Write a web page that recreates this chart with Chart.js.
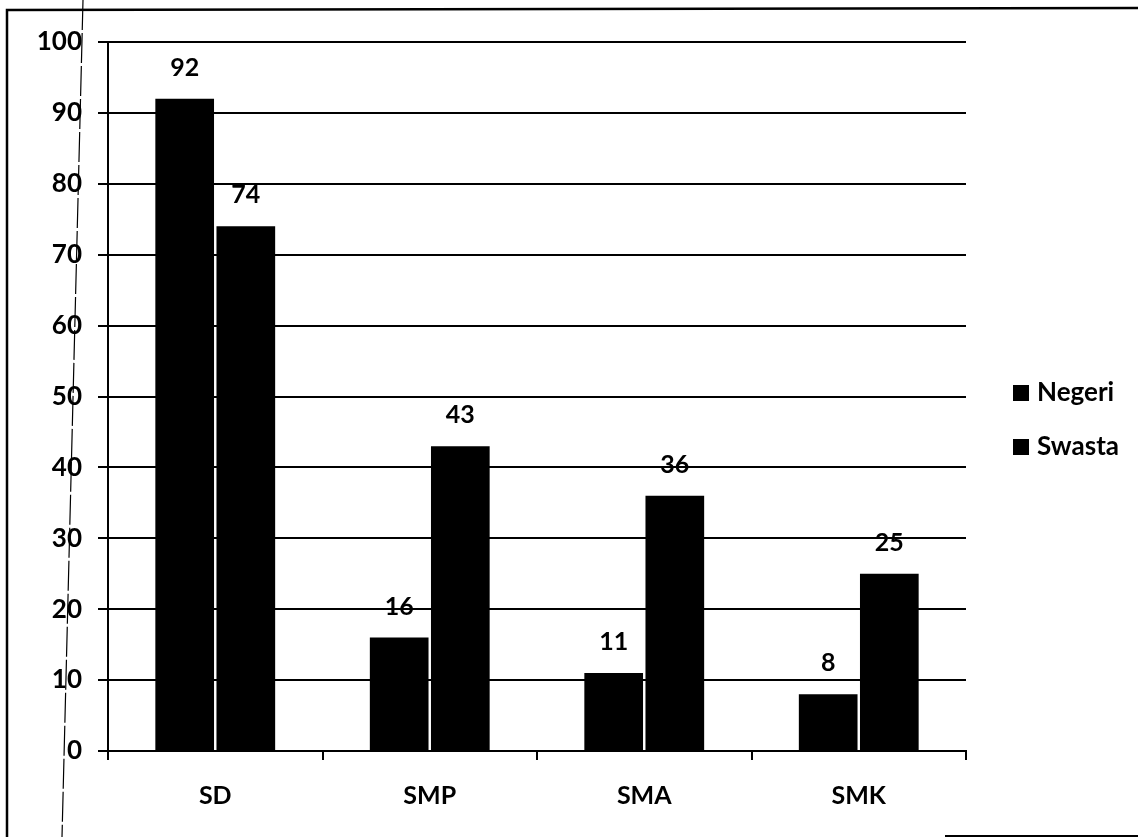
<!DOCTYPE html>
<html>
<head>
<meta charset="utf-8">
<script src="https://cdn.jsdelivr.net/npm/chart.js@4.4.1/dist/chart.umd.min.js"></script>
<style>
  html, body { margin: 0; padding: 0; background: #ffffff; }
  canvas { display: block; }
</style>
</head>
<body>
<canvas id="c" width="1138" height="837"></canvas>
<script>
const categories = ["SD", "SMP", "SMA", "SMK"];
const seriesNames = ["Negeri", "Swasta"];
const negeri = [92, 16, 11, 8];
const swasta = [74, 43, 36, 25];
const yTicks = [0, 10, 20, 30, 40, 50, 60, 70, 80, 90, 100];

const FONT = "Lato, 'DejaVu Sans', sans-serif";

const labelPlugin = {
  id: 'barLabels',
  afterDatasetsDraw(chart) {
    const ctx = chart.ctx;
    ctx.save();
    ctx.fillStyle = '#000';
    ctx.font = 'bold 25px ' + FONT;
    ctx.textAlign = 'center';
    ctx.textBaseline = 'middle';
    chart.data.datasets.forEach((ds, i) => {
      const meta = chart.getDatasetMeta(i);
      meta.data.forEach((el, j) => {
        ctx.fillText(String(ds.data[j]), el.x, el.y - 31);
      });
    });
    ctx.restore();
  }
};

const legendPlugin = {
  id: 'customLegend',
  afterDraw(chart) {
    const ctx = chart.ctx;
    ctx.save();
    ctx.font = 'bold 26px ' + FONT;
    ctx.textAlign = 'left';
    ctx.textBaseline = 'middle';
    const ys = [393, 447];
    chart.data.datasets.forEach((ds, i) => {
      ctx.fillStyle = ds.backgroundColor;
      ctx.fillRect(1013, ys[i] - 8, 16, 16);
      ctx.fillStyle = '#000';
      ctx.fillText(ds.label, 1037, ys[i]);
    });
    ctx.restore();
  }
};

const framePlugin = {
  id: 'frame',
  beforeDraw(chart) {
    const ctx = chart.ctx;
    ctx.save();
    ctx.fillStyle = '#fff';
    ctx.fillRect(0, 0, chart.width, chart.height);
    ctx.strokeStyle = '#000';
    ctx.lineWidth = 2.5;
    ctx.beginPath();
    ctx.moveTo(7, 837);
    ctx.lineTo(7, 10);
    ctx.lineTo(1140, 8);
    ctx.stroke();
    ctx.lineWidth = 2;
    ctx.beginPath();
    ctx.moveTo(945, 836);
    ctx.lineTo(1138, 836);
    ctx.stroke();
    // faint scanned fold line
    ctx.lineWidth = 1.2;
    ctx.setLineDash([30, 3]);
    ctx.beginPath();
    ctx.moveTo(83, 0);
    ctx.lineTo(62, 837);
    ctx.stroke();
    ctx.restore();
  }
};

new Chart(document.getElementById('c'), {
  type: 'bar',
  data: {
    labels: categories,
    datasets: [
      { label: seriesNames[0], data: negeri, backgroundColor: '#000000' },
      { label: seriesNames[1], data: swasta, backgroundColor: '#000000' }
    ]
  },
  options: {
    responsive: false,
    animation: false,
    devicePixelRatio: 1,
    layout: { padding: { left: 0, top: 42, right: 172, bottom: 0 } },
    datasets: { bar: { categoryPercentage: 0.57, barPercentage: 0.96 } },
    plugins: { legend: { display: false }, tooltip: { enabled: false } },
    scales: {
      x: {
        afterFit(scale) { scale.height = 86; },
        grid: { display: true, drawOnChartArea: false, drawTicks: true, tickLength: 9, color: '#000', lineWidth: 2, offset: true },
        border: { display: true, color: '#000', width: 2 },
        ticks: { color: '#000', padding: 21, font: { family: FONT, size: 25, weight: 'bold' } }
      },
      y: {
        min: 0,
        max: 100,
        afterFit(scale) { scale.width = 108; },
        afterBuildTicks(scale) { scale.ticks = yTicks.map(v => ({ value: v })); },
        grid: { color: '#000', lineWidth: 2, drawTicks: true, tickLength: 10, },
        border: { display: true, color: '#000', width: 2 },
        ticks: { color: '#000', padding: 16, font: { family: FONT, size: 26, weight: 'bold' } }
      }
    }
  },
  plugins: [framePlugin, labelPlugin, legendPlugin]
});
</script>
</body>
</html>
